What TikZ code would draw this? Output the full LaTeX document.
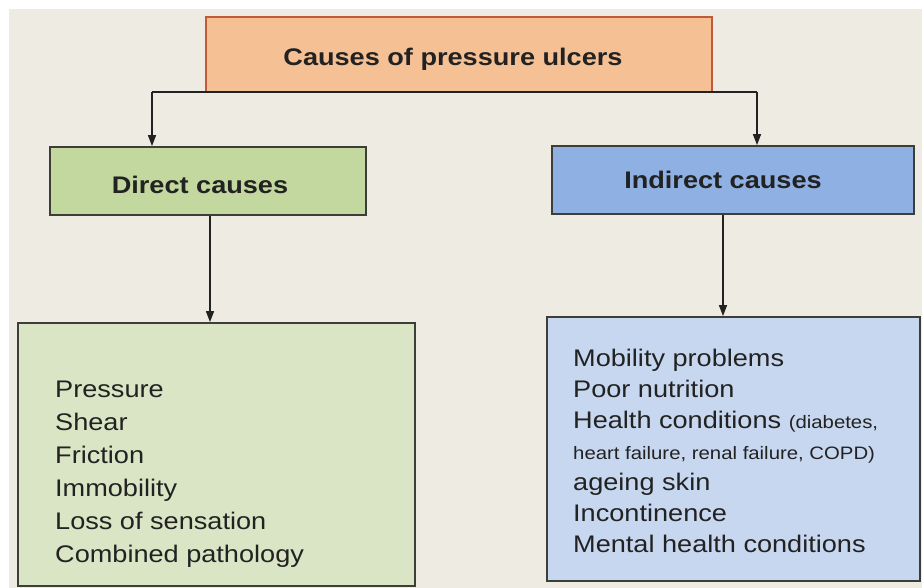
\documentclass[tikz,border=0pt]{standalone}
\usepackage{fontspec}
\setmainfont[FakeStretch=1.13]{Liberation Sans}
\usetikzlibrary{arrows.meta}
\definecolor{bgbeige}{HTML}{EEEBE2}
\definecolor{topfill}{HTML}{F6C095}
\definecolor{topline}{HTML}{C05A38}
\definecolor{gfill}{HTML}{C3D89E}
\definecolor{glight}{HTML}{D9E5C4}
\definecolor{bfill}{HTML}{8EB0E2}
\definecolor{blight}{HTML}{C7D7EF}
\definecolor{edge}{HTML}{3E3E38}
\definecolor{ink}{HTML}{222222}
\tikzset{
  box/.style={draw=edge, line width=1.8pt, inner sep=0pt},
  head/.style={font=\fontsize{24}{28}\selectfont\bfseries, text=ink},
  listtext/.style={font=\fontsize{24}{33}\selectfont, text=ink, align=left, inner sep=0pt, anchor=north west},
  conn/.style={draw=ink, line width=1.4pt},
  arr/.style={conn, -{Triangle[length=11pt,width=8pt]}}
}
\begin{document}
\begin{tikzpicture}[x=1pt,y=-1pt]
\useasboundingbox (0,0) rectangle (922,588);
\fill[white] (0,0) rectangle (922,588);
\fill[bgbeige] (9,9) rectangle (922,588);

% top box
\node[box, draw=topline, fill=topfill, minimum width=506pt, minimum height=75pt] (top) at (459,54.5) {};
\node[head] (toptext) at (453,59) {Causes of pressure ulcers};

% header boxes
\node[box, fill=gfill, minimum width=316pt, minimum height=68pt] (direct) at (208,181) {};
\node[head] (directtext) at (200,185) {Direct causes};
\node[box, fill=bfill, minimum width=362pt, minimum height=68pt] (indirect) at (733,180) {};
\node[head] (indirecttext) at (723,180) {Indirect causes};

% lower boxes
\node[box, fill=glight, minimum width=397pt, minimum height=263pt] (dlistbox) at (216.5,454.5) {};
\node[listtext] (dlist) at (55,381) {Pressure\\Shear\\Friction\\Immobility\\Loss of sensation\\Combined pathology};

\node[box, fill=blight, minimum width=373pt, minimum height=264pt] (ilistbox) at (733.5,449) {};
\node[listtext, font=\fontsize{24}{31}\selectfont] (ilist) at (573,349) {Mobility problems\\Poor nutrition\\Health conditions {\fontsize{18}{20}\selectfont(diabetes,}\\{\fontsize{18}{20}\selectfont heart failure, renal failure, COPD)}\\ageing skin\\Incontinence\\Mental health conditions};

% connectors
\coordinate (jl) at (152,92);
\coordinate (jr) at (757,92);
\draw[conn] (jl) -- (jr);
\draw[arr] (jl) -- (jl |- direct.north);
\draw[arr] (jr) -- (jr |- indirect.north);
\coordinate (dl) at (210,0);
\coordinate (il) at (723,0);
\draw[arr] (dl |- direct.south) -- (dl |- dlistbox.north);
\draw[arr] (il |- indirect.south) -- (il |- ilistbox.north);
\end{tikzpicture}
\end{document}
